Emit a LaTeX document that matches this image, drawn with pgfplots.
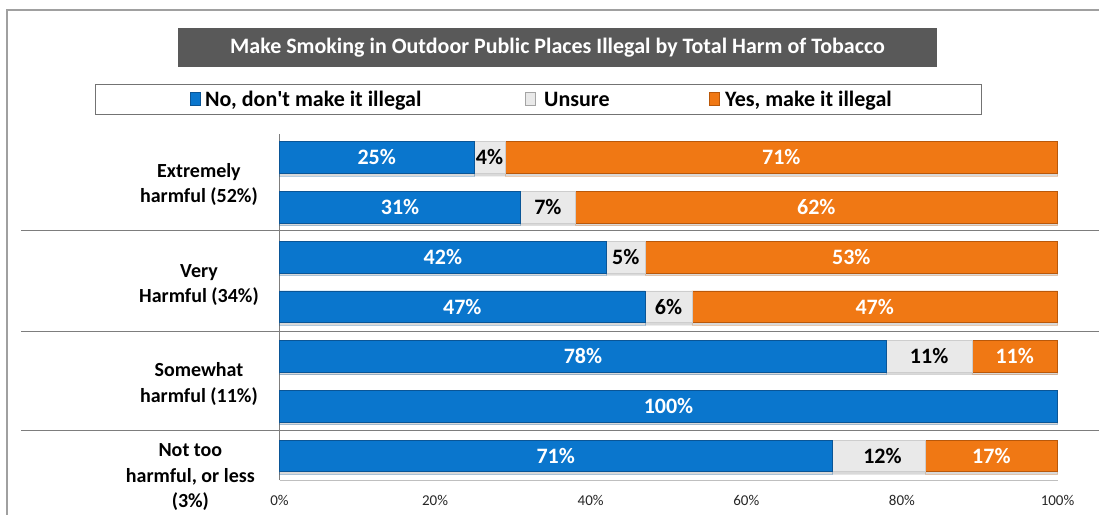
\documentclass[border=0pt]{standalone}
\usepackage{fontspec}
\setmainfont{Carlito}
\usepackage{pgfplots}
\usepackage{pgfplotstable}
\pgfplotsset{compat=1.18}
\usetikzlibrary{shadows}
\definecolor{cBlue}{RGB}{10,118,205}
\definecolor{cBlueD}{RGB}{10,85,150}
\definecolor{cOrange}{RGB}{240,120,20}
\definecolor{cOrangeD}{RGB}{185,88,10}
\definecolor{cGray}{RGB}{233,233,233}
\definecolor{cGrayD}{RGB}{205,205,205}
\definecolor{titleGray}{RGB}{89,89,89}
\definecolor{lineGray}{RGB}{125,125,125}
\definecolor{frameGray}{RGB}{160,160,160}

\pgfplotstableread{
y no un yes
-157.5 25 4 71
-207.2 31 7 62
-257.0 42 5 53
-306.7 47 6 47
-356.4 78 11 11
-406.2 100 0 0
-455.9 71 12 17
}\bars

\pgfplotstableread{
x y lab
12.5 -157.5 25
64.5 -157.5 71
15.5 -207.2 31
69.0 -207.2 62
21.0 -257.0 42
73.5 -257.0 53
23.5 -306.7 47
76.5 -306.7 47
39.0 -356.4 78
94.5 -356.4 11
50.0 -406.2 100
35.5 -455.9 71
91.5 -455.9 17
}\whitelabs

\pgfplotstableread{
x y lab
27.0 -157.5 4
34.5 -207.2 7
44.5 -257.0 5
50.0 -306.7 6
83.5 -356.4 11
77.5 -455.9 12
}\blacklabs

\begin{document}
\begin{tikzpicture}[x=1pt,y=1pt]
\path[use as bounding box] (0,0) rectangle (1099,-514);

% outer frame
\draw[frameGray, line width=1.5pt] (7,-516) -- (7,-10) -- (1100,-10);

% title
\fill[titleGray] (178,-28) rectangle (937,-67);
\node[text=white, font=\bfseries\fontsize{22}{26}\selectfont] at (557.5,-47.5) {Make Smoking in Outdoor Public Places Illegal by Total Harm of Tobacco};

% legend
\draw[draw=black!55, line width=1pt] (95,-84) rectangle (981,-114);
\fill[cBlue, draw=cBlueD] (190,-92.5) rectangle (200,-105.5);
\node[anchor=base west, font=\bfseries\fontsize{22}{26}\selectfont, inner sep=0pt] at (205,-106) {No, don\textquotesingle t make it illegal};
\fill[cGray, draw=cGrayD!80!black] (525,-92.5) rectangle (535,-105.5);
\node[anchor=base west, font=\bfseries\fontsize{22}{26}\selectfont, inner sep=0pt] at (544,-106) {Unsure};
\fill[cOrange, draw=cOrangeD] (709,-92.5) rectangle (719,-105.5);
\node[anchor=base west, font=\bfseries\fontsize{22}{26}\selectfont, inner sep=0pt] at (725,-106) {Yes, make it illegal};

% separators
\draw[lineGray, line width=1.2pt] (21,-230.5) -- (1100,-230.5);
\draw[lineGray, line width=1.2pt] (21,-331.5) -- (1100,-331.5);
\draw[lineGray, line width=1.2pt] (21,-430.7) -- (1100,-430.7);

% category labels
\begin{scope}[every node/.style={align=center, anchor=east, font=\bfseries\fontsize{20}{25.5}\selectfont, inner sep=0pt}]
\node at (258,-184.5) {Extremely\\harmful (52\%)};
\node at (259,-285) {Very\\Harmful (34\%)};
\node at (258,-384) {Somewhat\\harmful (11\%)};
\node at (255,-477.5) {Not too\\harmful, or less\\(3\%)};
\end{scope}

\begin{axis}[
  at={(279.5pt,-480pt)}, anchor=south west,
  scale only axis, width=778pt, height=346pt,
  xmin=0, xmax=100, ymin=-480, ymax=-134,
  xbar stacked, bar width=31.7,
  axis lines=left, axis line style={-},
  x axis line style={draw=black!25, line width=1pt},
  y axis line style={draw=lineGray, line width=1pt},
  ytick=\empty,
  xtick={0,20,40,60,80,100},
  xticklabels={0\%,20\%,40\%,60\%,80\%,100\%},
  major tick length=0pt,
  xticklabel style={font=\fontsize{15}{17}\selectfont, text=black!85, yshift=-12pt},
  clip=false,
  every axis plot/.append style={line width=0.7pt, drop shadow={shadow xshift=0pt, shadow yshift=-2.5pt, opacity=0.3}},
]
\addplot[fill=cBlue, draw=cBlueD] table[x=no, y=y] {\bars};
\addplot[fill=cGray, draw=cGrayD] table[x=un, y=y] {\bars};
\addplot[fill=cOrange, draw=cOrangeD] table[x=yes, y=y] {\bars};
\end{axis}

\begin{axis}[
  at={(279.5pt,-480pt)}, anchor=south west,
  scale only axis, width=778pt, height=346pt,
  xmin=0, xmax=100, ymin=-480, ymax=-134,
  hide axis, clip=false,
]
\addplot[only marks, mark=none, point meta=explicit symbolic,
  nodes near coords={\pgfplotspointmeta\%}, nodes near coords align=center,
  every node near coord/.append style={anchor=center, text=white, font=\bfseries\fontsize{22}{26}\selectfont}]
  table[x=x, y=y, meta=lab] {\whitelabs};
\addplot[only marks, mark=none, point meta=explicit symbolic,
  nodes near coords={\pgfplotspointmeta\%}, nodes near coords align=center,
  every node near coord/.append style={anchor=center, text=black, font=\bfseries\fontsize{22}{26}\selectfont}]
  table[x=x, y=y, meta=lab] {\blacklabs};
\end{axis}
\end{tikzpicture}
\end{document}
